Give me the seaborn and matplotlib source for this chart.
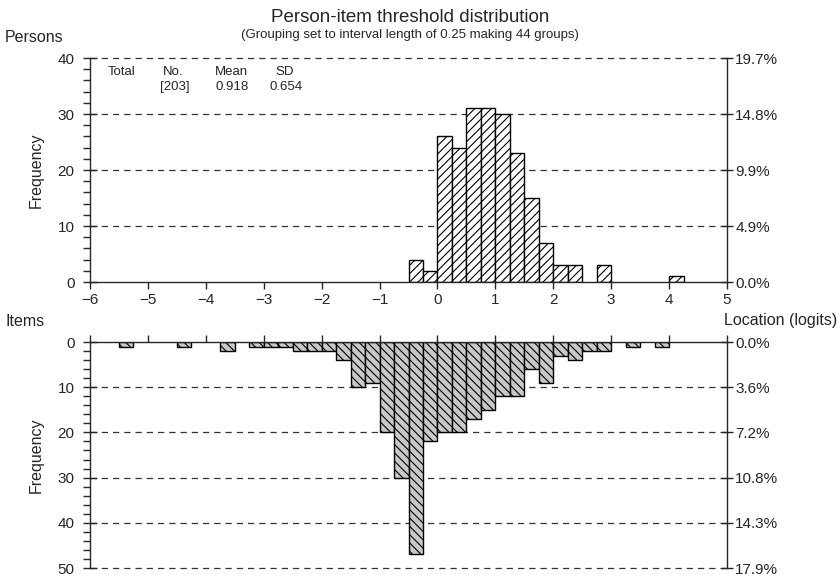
import numpy as np
import pandas as pd
import matplotlib
matplotlib.use("Agg")
import matplotlib.pyplot as plt
import seaborn as sns
from matplotlib.ticker import MultipleLocator, FixedLocator, FixedFormatter

# Person locations grouped in 0.25-logit intervals (lower edge of interval -> count)
person_bin_start = [-0.5, -0.25, 0.0, 0.25, 0.5, 0.75, 1.0, 1.25, 1.5, 1.75,
                    2.0, 2.25, 2.75, 4.0]
person_count = [4, 2, 26, 24, 31, 31, 30, 23, 15, 7, 3, 3, 3, 1]

# Item threshold locations grouped the same way
item_bin_start = [-5.5, -4.5, -3.75, -3.25, -3.0, -2.75, -2.5, -2.25, -2.0, -1.75,
                  -1.5, -1.25, -1.0, -0.75, -0.5, -0.25, 0.0, 0.25, 0.5, 0.75,
                  1.0, 1.25, 1.5, 1.75, 2.0, 2.25, 2.5, 2.75, 3.25, 3.75]
item_count = [1, 1, 2, 1, 1, 1, 2, 2, 2, 4,
              10, 9, 20, 30, 47, 22, 20, 20, 17, 15,
              12, 12, 6, 9, 3, 4, 2, 2, 1, 1]

person_mean = 0.918
person_sd = 0.654

x_ticks = [-6, -5, -4, -3, -2, -1, 0, 1, 2, 3, 4, 5]
person_yticks = [0, 10, 20, 30, 40]
item_yticks = [0, 10, 20, 30, 40, 50]
interval = 0.25

sns.set_style("ticks")
plt.rcParams["font.family"] = ["Liberation Sans", "DejaVu Sans"]
plt.rcParams["hatch.linewidth"] = 0.8
plt.rcParams["axes.linewidth"] = 1.0

W, H = 838, 575
fig = plt.figure(figsize=(W / 100, H / 100), dpi=100)


def frac_box(left, top, right, bottom):
    return [left / W, 1 - bottom / H, (right - left) / W, (bottom - top) / H]


ax_p = fig.add_axes(frac_box(90, 58, 727, 282))
ax_i = fig.add_axes(frac_box(90, 342, 727, 568))

person_df = pd.DataFrame({"location": np.array(person_bin_start) + interval / 2,
                          "count": person_count})
item_df = pd.DataFrame({"location": np.array(item_bin_start) + interval / 2,
                        "count": item_count})

hist_kws = dict(x="location", weights="count", binwidth=interval,
                binrange=(x_ticks[0], x_ticks[-1]), edgecolor="black",
                linewidth=1.0, alpha=1)
sns.histplot(data=person_df, ax=ax_p, color="white", **hist_kws)
sns.histplot(data=item_df, ax=ax_i, color="#c8c8c8", **hist_kws)

for ax, hatch in ((ax_p, "////"), (ax_i, "\\\\\\\\")):
    for patch in ax.patches:
        if patch.get_height() == 0:
            patch.set_visible(False)
        else:
            patch.set_hatch(hatch)

TICK_SIZE = 11
LABEL_SIZE = 11.5


def style_panel(ax, yticks, total, top_panel):
    ax.set_xlim(x_ticks[0], x_ticks[-1])
    ax.set_xlabel("")
    ax.set_ylabel("Frequency", fontsize=LABEL_SIZE, labelpad=10)
    ax.set_axisbelow(True)
    ax.yaxis.set_major_locator(FixedLocator(yticks))
    ax.yaxis.set_minor_locator(MultipleLocator(2))
    ax.tick_params(axis="y", which="major", direction="inout", length=10,
                   width=1, labelsize=TICK_SIZE, pad=6)
    ax.tick_params(axis="y", which="minor", direction="out", length=5, width=1)
    for v in yticks[1:]:
        ax.axhline(v, color="#333333", linewidth=0.9, linestyle=(0, (5, 4)),
                   zorder=0.5, clip_on=False)
    ax.xaxis.set_major_locator(FixedLocator(x_ticks))
    if top_panel:
        ax.set_ylim(yticks[0], yticks[-1])
        ax.spines["top"].set_visible(False)
        ax.tick_params(axis="x", direction="out", length=5, width=1,
                       labelsize=TICK_SIZE, pad=3)
    else:
        ax.set_ylim(yticks[-1], yticks[0])
        ax.spines["bottom"].set_visible(False)
        ax.xaxis.tick_top()
        ax.tick_params(axis="x", direction="out", length=5, width=1,
                       labeltop=False, labelbottom=False)
    ax.spines["right"].set_visible(False)

    # Percentage scale on the right-hand side
    twin = ax.twinx()
    twin.set_ylim(ax.get_ylim())
    twin.yaxis.set_major_locator(FixedLocator(yticks))
    twin.yaxis.set_major_formatter(
        FixedFormatter([f"{v / total * 100:.1f}%" for v in yticks]))
    twin.tick_params(axis="y", direction="inout", length=8, width=1,
                     labelsize=TICK_SIZE, pad=2)
    for side in ("top", "bottom", "left"):
        twin.spines[side].set_visible(False)
    twin.grid(False)


style_panel(ax_p, person_yticks, sum(person_count), True)
style_panel(ax_i, item_yticks, sum(item_count), False)


def fx(px):
    return px / W


def fy(py):
    return 1 - py / H


fig.text(fx(410), fy(17), "Person-item threshold distribution",
         ha="center", va="center", fontsize=13.5)
fig.text(fx(410), fy(35), "(Grouping set to interval length of 0.25 making 44 groups)",
         ha="center", va="center", fontsize=9.5)
fig.text(fx(5), fy(37), "Persons", ha="left", va="center", fontsize=LABEL_SIZE)
fig.text(fx(5), fy(321), "Items", ha="left", va="center", fontsize=LABEL_SIZE)
fig.text(fx(837), fy(321), "Location (logits)", ha="right", va="center",
         fontsize=LABEL_SIZE)

stat_size = 9.5
row1, row2 = fy(72), fy(87)
fig.text(fx(108), row1, "Total", ha="left", va="center", fontsize=stat_size)
fig.text(fx(173), row1, "No.", ha="center", va="center", fontsize=stat_size)
fig.text(fx(231), row1, "Mean", ha="center", va="center", fontsize=stat_size)
fig.text(fx(285), row1, "SD", ha="center", va="center", fontsize=stat_size)
fig.text(fx(175), row2, f"[{sum(person_count)}]", ha="center", va="center",
         fontsize=stat_size)
fig.text(fx(232), row2, f"{person_mean:.3f}", ha="center", va="center",
         fontsize=stat_size)
fig.text(fx(286), row2, f"{person_sd:.3f}", ha="center", va="center",
         fontsize=stat_size)

fig.savefig("out.png", dpi=100)
